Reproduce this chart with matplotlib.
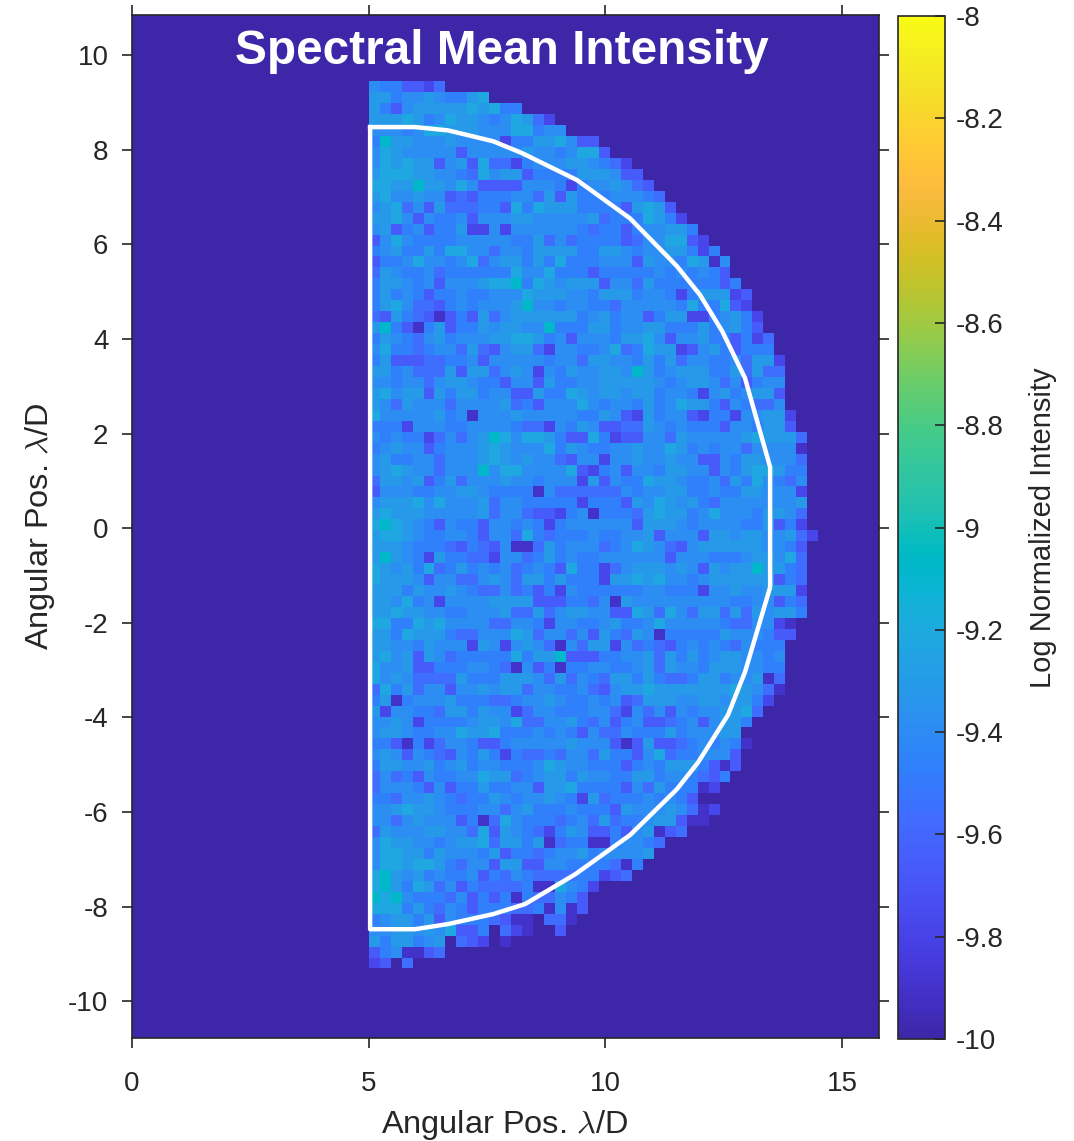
import numpy as np
import matplotlib.pyplot as plt
from matplotlib.colors import LinearSegmentedColormap

plt.rcParams['font.family'] = ['Liberation Sans', 'DejaVu Sans']
plt.rcParams['mathtext.fontset'] = 'cm'

# parula
parula = [
    [0.2422, 0.1504, 0.6603], [0.2504, 0.1650, 0.7076], [0.2578, 0.1818, 0.7511], [0.2647, 0.1978, 0.7952],
    [0.2706, 0.2147, 0.8364], [0.2751, 0.2342, 0.8710], [0.2783, 0.2559, 0.8991], [0.2803, 0.2782, 0.9221],
    [0.2813, 0.3006, 0.9414], [0.2810, 0.3228, 0.9579], [0.2795, 0.3447, 0.9717], [0.2760, 0.3667, 0.9829],
    [0.2699, 0.3892, 0.9906], [0.2602, 0.4123, 0.9952], [0.2440, 0.4358, 0.9988], [0.2206, 0.4603, 0.9973],
    [0.1963, 0.4847, 0.9892], [0.1834, 0.5074, 0.9798], [0.1786, 0.5289, 0.9682], [0.1764, 0.5499, 0.9520],
    [0.1687, 0.5703, 0.9359], [0.1540, 0.5902, 0.9218], [0.1460, 0.6091, 0.9079], [0.1380, 0.6276, 0.8973],
    [0.1248, 0.6459, 0.8883], [0.1113, 0.6635, 0.8763], [0.0952, 0.6798, 0.8598], [0.0689, 0.6948, 0.8394],
    [0.0297, 0.7082, 0.8163], [0.0036, 0.7203, 0.7917], [0.0067, 0.7312, 0.7660], [0.0433, 0.7411, 0.7394],
    [0.0964, 0.7500, 0.7120], [0.1408, 0.7584, 0.6842], [0.1717, 0.7670, 0.6554], [0.1938, 0.7758, 0.6251],
    [0.2161, 0.7843, 0.5923], [0.2470, 0.7918, 0.5567], [0.2906, 0.7973, 0.5188], [0.3406, 0.8008, 0.4789],
    [0.3909, 0.8029, 0.4354], [0.4456, 0.8024, 0.3909], [0.5044, 0.7993, 0.3480], [0.5616, 0.7942, 0.3045],
    [0.6174, 0.7876, 0.2612], [0.6720, 0.7793, 0.2227], [0.7242, 0.7698, 0.1910], [0.7738, 0.7598, 0.1646],
    [0.8203, 0.7498, 0.1535], [0.8634, 0.7406, 0.1596], [0.9035, 0.7330, 0.1774], [0.9393, 0.7288, 0.2100],
    [0.9728, 0.7298, 0.2394], [0.9956, 0.7434, 0.2371], [0.9970, 0.7659, 0.2199], [0.9952, 0.7893, 0.2028],
    [0.9892, 0.8136, 0.1885], [0.9786, 0.8386, 0.1766], [0.9676, 0.8639, 0.1643], [0.9610, 0.8890, 0.1537],
    [0.9597, 0.9135, 0.1423], [0.9628, 0.9373, 0.1265], [0.9691, 0.9606, 0.1064], [0.9769, 0.9839, 0.0805],
]
cmap = LinearSegmentedColormap.from_list('parula', parula, N=256)

# intensity, one digit per cell, top row first
levels = [-10, -9.9, -9.78, -9.66, -9.56, -9.47, -9.39, -9.31, -9.22, -9.08]
rows = [
    "6553324",
    "77566765578",
    "75367777787855",
    "77787568776568742",
    "666568877766688566",
    "597766676666255778633",
    "6876666636666676656883",
    "687877367384425666776542",
    "7888776654867735555777633",
    "88779776863333666525667643",
    "786676634355566473755566654",
    "6784637444553858777555537873",
    "77863655636667766666745558752",
    "673563557226266666654553566775",
    "3686555566666557464555534668832",
    "56755758866466577775577656677525",
    "355686656846775758555666376658716",
    "476556455555586685553555556565653",
    "5776563666788958767773664755555535",
    "57565355655666877766577756652577723",
    "57864435656667966566554666665855832",
    "437543135374677777756756635772256752",
    "795315735576776695557756677555756753",
    "5765467566677887563666577863667553524",
    "6855456647436774266556845877236753555",
    "57333445563666665664776657574665564772",
    "77564447377467626576677697567775574744",
    "66566467765536637556677777656776463566",
    "78677375775663375587677677566526756773",
    "76476664666674536668656657568775365446",
    "866666756166676666655763275663255266772",
    "555266655666654426576334476565553665773",
    "6565524646798688753385233664766666787774",
    "5676635666787666857655667668756566466661",
    "6755664666787676643662667667663365776664",
    "6787664666968866668325636657766365788755",
    "4776735746667665666273655877655647586546",
    "3666556677655551644444465667755655776662",
    "6777868666746655555255537687675466666667",
    "7877766666746643325615554787756866657764",
    "8987653655366565256666663777656666557352",
    "78876556653664854555655667366637767766742",
    "7776555435436114756664568764367777776653",
    "7976527554426645756556666663666555677684",
    "8767584575656456538552467776763767797754",
    "8777636644676477575552778786656777777354",
    "7775766765446453526555555665552667667772",
    "7768562666677773335546176666666665566354",
    "7787766556667447467766338748647747476775",
    "885587866664466526655675568666665446621",
    "775877754466687466463754761555557666533",
    "77665766627626764164772645435656546555",
    "78673764555558577933355667475756776656",
    "86673355566541635155665567476657776655",
    "86764444755577764746547757544577566714",
    "48574663667677466556436778777777787641",
    "5715666755544566765565634777667767752",
    "726655477576624665556642646365667784",
    "66762555567768446675463563345636775",
    "6776556687785556565364465557566677",
    "55315246653356666676663137334565651",
    "6763654365752544546647553684556663",
    "5776675675665556876655535657775313",
    "464536556687745677576655775665435",
    "46665363557556637785555364755512",
    "554667654557656676527455565653",
    "66787765556646755565553766676412",
    "6646766635148655545647455677311",
    "47666776648376542576335367134",
    "687766567784775714551156654",
    "68877576665735545667566667",
    "6887887546637733665555415",
    "897675655635465444455234",
    "897587463544445118652",
    "98965554635351544653",
    "88857546535554451613",
    "5677573655543110441",
    "667767683350421003",
    "7577567043201",
    "3561134",
    "2304",
]

# dark hole mask outline
mask_x = [5.03, 5.98, 6.68, 7.63, 8.24, 9.40, 10.52, 11.51, 12.00, 12.47, 12.95, 13.48, 13.48, 12.95, 12.59,
          11.96, 11.51, 10.52, 9.36, 8.30, 7.63, 6.68, 5.98, 5.03]
mask_y = [8.48, 8.48, 8.41, 8.18, 7.93, 7.36, 6.55, 5.54, 4.93, 4.16, 3.17, 1.29, -1.25, -3.04, -3.95,
          -4.95, -5.52, -6.49, -7.32, -7.95, -8.16, -8.37, -8.48, -8.48]

x_start = 5.0
y_start = 9.45
cell = 0.2316
cbar_ticks = [-8, -8.2, -8.4, -8.6, -8.8, -9, -9.2, -9.4, -9.6, -9.8, -10]
cbar_labels = ['-8', '-8.2', '-8.4', '-8.6', '-8.8', '-9', '-9.2', '-9.4', '-9.6', '-9.8', '-10']

ink = '#262626'
w, h = 1074, 1141

Z = np.full((len(rows), 41), -10.0)
for i, r in enumerate(rows):
    for j, c in enumerate(r[:41]):
        Z[i, j] = levels[int(c)]

fig = plt.figure(figsize=(w / 100, h / 100), dpi=100)
ax = fig.add_axes([132 / w, 1 - 1038 / h, (879 - 132) / w, (1038 - 15) / h])
ax.set_facecolor(parula[0])

x_edges = x_start + cell * np.arange(Z.shape[1] + 1)
y_edges = y_start - cell * np.arange(Z.shape[0] + 1)
mesh = ax.pcolormesh(x_edges, y_edges, Z, cmap=cmap, vmin=-10, vmax=-8, linewidth=0, rasterized=True)

ax.plot(mask_x + mask_x[:1], mask_y + mask_y[:1], color='white', lw=3.2, solid_joinstyle='round')

ax.set_xlim(0, 15.78)
ax.set_ylim(-10.78, 10.85)
ax.set_xticks([0, 5, 10, 15])
ax.set_yticks(np.arange(-10, 11, 2))
ax.set_yticklabels(['-10', '-8', '-6', '-4', '-2', '0', '2', '4', '6', '8', '10'])
ax.tick_params(direction='out', length=7, width=1.2, color=ink, labelcolor=ink, labelsize=20,
               top=True, right=True)
ax.tick_params(axis='x', pad=17)
ax.tick_params(axis='y', pad=10)
for s in ax.spines.values():
    s.set_color(ink)
    s.set_linewidth(1.2)
ax.set_xlabel(r'Angular Pos. $\lambda$/D', fontsize=23.4, color=ink)
ax.set_ylabel(r'Angular Pos. $\lambda$/D', fontsize=23.4, color=ink)
ax.xaxis.set_label_coords(0.498, -0.0684)
ax.yaxis.set_label_coords(-0.1005, 0.5)
ax.text(0.4953, 0.9646, 'Spectral Mean Intensity', transform=ax.transAxes, color='white', fontsize=34.4,
        fontweight='bold', ha='center', va='center')

cax = fig.add_axes([898 / w, 1 - 1039 / h, (945 - 898) / w, (1039 - 16) / h])
cb = fig.colorbar(mesh, cax=cax)
cb.set_ticks(cbar_ticks)
cb.set_ticklabels(cbar_labels)
cax.tick_params(direction='in', length=7, width=1.2, color=ink, labelcolor=ink, labelsize=20, pad=8)
cb.outline.set_edgecolor(ink)
cb.outline.set_linewidth(1.2)
cb.set_label('Log Normalized Intensity', fontsize=21, color=ink, labelpad=18)

plt.savefig('out.png', dpi=100)
